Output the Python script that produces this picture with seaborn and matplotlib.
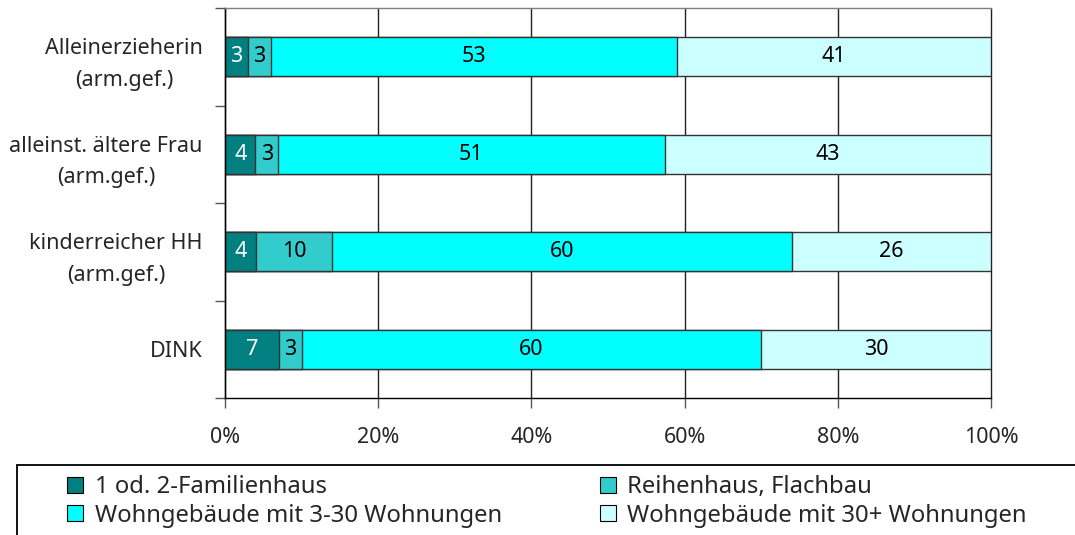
import numpy as np
import pandas as pd
import matplotlib
matplotlib.use("Agg")
import matplotlib.pyplot as plt
import seaborn as sns
from matplotlib.patches import Rectangle, Patch

categories = ["Alleinerzieherin\n(arm.gef.)", "alleinst. ältere Frau\n(arm.gef.)",
              "kinderreicher HH\n(arm.gef.)", "DINK"]
series_names = ["1 od. 2-Familienhaus", "Reihenhaus, Flachbau",
                "Wohngebäude mit 3-30 Wohnungen", "Wohngebäude mit 30+ Wohnungen"]
familienhaus = [3, 4, 4, 7]
reihenhaus = [3, 3, 10, 3]
wohn_3_30 = [53, 51, 60, 60]
wohn_30plus = [41, 43, 26, 30]
xticklabels = ["0%", "20%", "40%", "60%", "80%", "100%"]

colors = ["#008080", "#33CCCC", "#00FFFF", "#CCFFFF"]
text_colors = ["white", "black", "black", "black"]

sns.set_theme(style="white")
plt.rcParams["font.family"] = ["Noto Sans", "DejaVu Sans"]
FS = 15.5
LFS = 17.2

vals = np.array([familienhaus, reihenhaus, wohn_3_30, wohn_30plus], dtype=float)
pct = vals / vals.sum(axis=0) * 100
cum = np.cumsum(pct, axis=0)

fig = plt.figure(figsize=(10.75, 5.35), dpi=100)
ax = fig.add_axes([225/1075, 1-398/535, (991-225)/1075, (398-8)/535])

ax.set_axisbelow(True)
ax.xaxis.grid(True, color="#222222", linewidth=1.0, clip_on=False)
ax.yaxis.grid(False)

for k in range(3, -1, -1):
    df = pd.DataFrame({"cat": categories, "val": cum[k]})
    sns.barplot(data=df, x="val", y="cat", orient="h", color=colors[k],
                saturation=1, width=0.4, edgecolor="#333333", linewidth=1.0, ax=ax)

for k in range(4):
    for i in range(len(categories)):
        ax.text(cum[k, i] - pct[k, i] / 2, i, f"{int(vals[k, i])}",
                ha="center", va="center", fontsize=FS, color=text_colors[k])

ax.set_xlim(0, 100)
ax.set_ylim(3.5, -0.5)
ax.set_xticks([0, 20, 40, 60, 80, 100])
ax.set_xticklabels(xticklabels, fontsize=FS)
ax.set_xlabel("")
ax.set_ylabel("")
ax.tick_params(axis="x", direction="out", length=7, width=1, color="#555555", pad=14, bottom=True)
ax.set_yticks(range(len(categories)))
ax.set_yticklabels(categories, fontsize=FS)
for lab in ax.get_yticklabels():
    lab.set_multialignment("center")
    lab.set_linespacing(1.65)
    if "\n" in lab.get_text():
        lab.set_y(lab.get_position()[1])
ax.tick_params(axis="y", which="major", length=0, pad=16)
ax.set_yticks([-0.5, 0.5, 1.5, 2.5, 3.5], minor=True)
ax.tick_params(axis="y", which="minor", direction="out", length=7, width=1, color="#555555", left=True)

ax.spines["right"].set_visible(False)
ax.spines["top"].set_color("#808080")
ax.spines["top"].set_linewidth(1.0)
for s in ["left", "bottom"]:
    ax.spines[s].set_color("black")
    ax.spines[s].set_linewidth(1.0)

# legend box
fig.patches.append(Rectangle((17/1075, -0.1), 1.2, 0.1 + (535-465)/535,
                             transform=fig.transFigure, fill=False,
                             edgecolor="black", linewidth=1.3, clip_on=False))
handles = [Patch(facecolor=colors[i], edgecolor="black", linewidth=0.8, label=series_names[i])
           for i in range(4)]
order = [0, 2, 1, 3]
fig.legend([handles[i] for i in order], [series_names[i] for i in order],
           ncol=2, loc="upper left", bbox_to_anchor=(67/1075, 1-475/535),
           frameon=False, fontsize=LFS, handlelength=0.66, handleheight=0.66,
           handletextpad=0.5, columnspacing=4.1, labelspacing=0.2,
           borderaxespad=0, borderpad=0)

fig.savefig("out.png", dpi=100)
